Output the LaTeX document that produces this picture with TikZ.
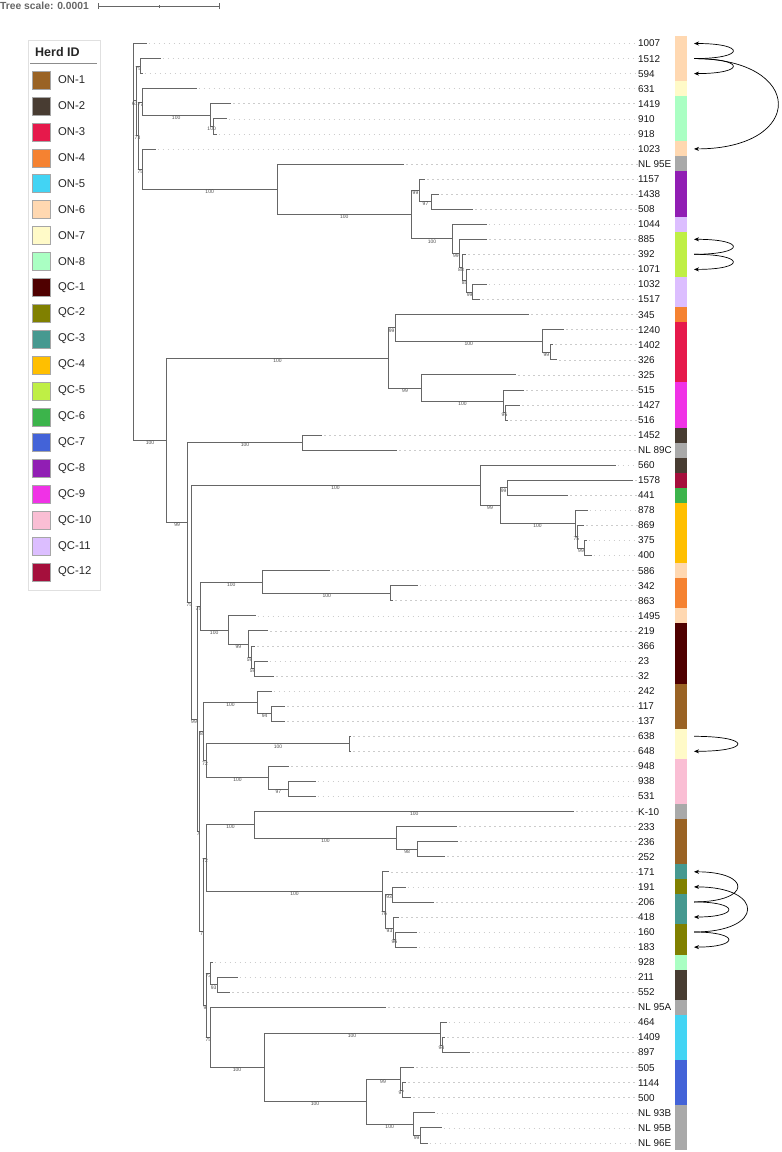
\documentclass[tikz,border=0pt]{standalone}
\usepackage{fontspec}
\setmainfont{Liberation Sans}
\usetikzlibrary{arrows.meta}
\definecolor{on1}{HTML}{9A6324}
\definecolor{on2}{HTML}{483C32}
\definecolor{on3}{HTML}{E6194B}
\definecolor{on4}{HTML}{F58231}
\definecolor{on5}{HTML}{42D4F4}
\definecolor{on6}{HTML}{FFD8B1}
\definecolor{on7}{HTML}{FFFAC8}
\definecolor{on8}{HTML}{AAFFC3}
\definecolor{qc1}{HTML}{4F0000}
\definecolor{qc2}{HTML}{808000}
\definecolor{qc3}{HTML}{469990}
\definecolor{qc4}{HTML}{FFBF00}
\definecolor{qc5}{HTML}{BFEF45}
\definecolor{qc6}{HTML}{3CB44B}
\definecolor{qc7}{HTML}{4363D8}
\definecolor{qc8}{HTML}{911EB4}
\definecolor{qc9}{HTML}{F032E6}
\definecolor{qc10}{HTML}{FABED4}
\definecolor{qc11}{HTML}{DCBEFF}
\definecolor{qc12}{HTML}{A50F3C}
\definecolor{ngr}{HTML}{A9A9A9}
\tikzset{
  brl/.style={draw=black!60, line width=0.65pt},
  bs/.style={font=\fontsize{5}{5}\selectfont, text=black!70, inner sep=0.4pt, anchor=north},
  dotl/.style={draw=black!20, line width=0.6pt, dash pattern=on 1.6pt off 3.4pt},
  leaflab/.style={font=\fontsize{9.9}{11}\selectfont, text=black!90, anchor=west, inner sep=0pt},
  legtxt/.style={font=\fontsize{11.3}{13}\selectfont, text=black!85, anchor=west, inner sep=0pt},
  legsw/.style={draw=black!35, line width=0.3pt, minimum size=18pt, inner sep=0pt},
  arr/.style={draw=black, line width=0.7pt, -{Stealth[length=5pt,width=4pt]}}
}
\newcommand\Lf[5]{%
  \coordinate (t#1) at (#3,#2);
  \coordinate (a#1) at (694,#2);
  \node[leaflab] (n#1) at (638,#2) {#4};
  \draw[dotl] ([xshift=2pt]t#1) -- (n#1.west);
  \fill[#5] (675,#2-7.53) rectangle (687,#2+7.53);}
\newcommand\E[3]{\draw[brl] (#1) |- (#2) node[pos=.75,bs]{#3};}
\begin{document}
\begin{tikzpicture}[x=1pt,y=-1pt]
\useasboundingbox (0,0) rectangle (782,1152);
% tree scale
\node[anchor=west, inner sep=0pt, font=\bfseries\fontsize{10.3}{12}\selectfont, text=black!60] (ts) at (0,6) {Tree scale: 0.0001};
\coordinate (sb0) at (98,6); \coordinate (sb1) at (219.7,6); \coordinate (sbm) at (159,6);
\draw[black!60, line width=0.7pt] (sb0) -- (sb1);
\draw[black!60, line width=0.7pt] ([yshift=-3pt]sb0) -- ([yshift=3pt]sb0);
\draw[black!60, line width=0.7pt] ([yshift=-3pt]sb1) -- ([yshift=3pt]sb1);
\draw[black!60, line width=0.5pt] ([yshift=-1.5pt]sbm) -- ([yshift=1.5pt]sbm);
% legend
\draw[black!12, line width=0.6pt] (28,40) rectangle (100,590);
\node[anchor=west, inner sep=0pt, font=\bfseries\fontsize{12.5}{14}\selectfont, text=black!85] (lgt) at (35,52) {Herd ID};
\draw[black!45, line width=0.5pt] (30,63.5) -- (97,63.5);
\foreach \c/\t [count=\i] in {on1/ON-1,on2/ON-2,on3/ON-3,on4/ON-4,on5/ON-5,on6/ON-6,on7/ON-7,on8/ON-8,qc1/QC-1,qc2/QC-2,qc3/QC-3,qc4/QC-4,qc5/QC-5,qc6/QC-6,qc7/QC-7,qc8/QC-8,qc9/QC-9,qc10/QC-10,qc11/QC-11,qc12/QC-12}{
  \node[legsw, fill=\c] (ls\i) at (41,{80+(\i-1)*25.9}) {};
  \node[legtxt] (lg\i) at (58,{80+(\i-1)*25.9}) {\t};
}
% leaves
\Lf{0}{43.5}{146.7}{1007}{on6}
\Lf{1}{58.6}{160.7}{1512}{on6}
\Lf{2}{73.6}{142.7}{594}{on6}
\Lf{3}{88.7}{196.7}{631}{on7}
\Lf{4}{103.7}{231}{1419}{on8}
\Lf{5}{118.8}{226.7}{910}{on8}
\Lf{6}{133.9}{216.7}{918}{on8}
\Lf{7}{148.9}{155.7}{1023}{on6}
\Lf{8}{164.0}{404}{NL 95E}{ngr}
\Lf{9}{179.0}{425}{1157}{qc8}
\Lf{10}{194.1}{439}{1438}{qc8}
\Lf{11}{209.2}{473}{508}{qc8}
\Lf{12}{224.2}{486.7}{1044}{qc11}
\Lf{13}{239.3}{487.3}{885}{qc5}
\Lf{14}{254.3}{466}{392}{qc5}
\Lf{15}{269.4}{470}{1071}{qc5}
\Lf{16}{284.5}{486.7}{1032}{qc11}
\Lf{17}{299.5}{480}{1517}{qc11}
\Lf{18}{314.6}{529.3}{345}{on4}
\Lf{19}{329.6}{564}{1240}{on3}
\Lf{20}{344.7}{553}{1402}{on3}
\Lf{21}{359.8}{557.3}{326}{on3}
\Lf{22}{374.8}{516}{325}{on3}
\Lf{23}{389.9}{524}{515}{qc9}
\Lf{24}{404.9}{520}{1427}{qc9}
\Lf{25}{420.0}{508.3}{516}{qc9}
\Lf{26}{435.1}{322.3}{1452}{on2}
\Lf{27}{450.1}{397.3}{NL 89C}{ngr}
\Lf{28}{465.2}{615.7}{560}{on2}
\Lf{29}{480.2}{633.3}{1578}{qc12}
\Lf{30}{495.3}{568.3}{441}{qc6}
\Lf{31}{510.4}{587.7}{878}{qc4}
\Lf{32}{525.4}{584.3}{869}{qc4}
\Lf{33}{540.5}{586.7}{375}{qc4}
\Lf{34}{555.5}{591.7}{400}{qc4}
\Lf{35}{570.6}{330}{586}{on6}
\Lf{36}{585.7}{417.7}{342}{on4}
\Lf{37}{600.7}{393.3}{863}{on4}
\Lf{38}{615.8}{255.7}{1495}{on6}
\Lf{39}{630.8}{268.3}{219}{qc1}
\Lf{40}{645.9}{255}{366}{qc1}
\Lf{41}{661.0}{267.7}{23}{qc1}
\Lf{42}{676.0}{274.3}{32}{qc1}
\Lf{43}{691.1}{271.7}{242}{on1}
\Lf{44}{706.1}{285}{117}{on1}
\Lf{45}{721.2}{285}{137}{on1}
\Lf{46}{736.3}{351}{638}{on7}
\Lf{47}{751.3}{351}{648}{on7}
\Lf{48}{766.4}{289.3}{948}{qc10}
\Lf{49}{781.4}{315.7}{938}{qc10}
\Lf{50}{796.5}{315.7}{531}{qc10}
\Lf{51}{811.6}{574.3}{K-10}{ngr}
\Lf{52}{826.6}{457.3}{233}{on1}
\Lf{53}{841.7}{458.3}{236}{on1}
\Lf{54}{856.7}{445}{252}{on1}
\Lf{55}{871.8}{389.3}{171}{qc3}
\Lf{56}{886.9}{405.7}{191}{qc2}
\Lf{57}{901.9}{434}{206}{qc3}
\Lf{58}{917.0}{399.3}{418}{qc3}
\Lf{59}{932.0}{416.7}{160}{qc2}
\Lf{60}{947.1}{416.7}{183}{qc2}
\Lf{61}{962.2}{212.7}{928}{on8}
\Lf{62}{977.2}{237.7}{211}{on2}
\Lf{63}{992.3}{230}{552}{on2}
\Lf{64}{1007.3}{386}{NL 95A}{ngr}
\Lf{65}{1022.4}{446.7}{464}{on5}
\Lf{66}{1037.5}{445}{1409}{on5}
\Lf{67}{1052.5}{470}{897}{on5}
\Lf{68}{1067.6}{414}{505}{qc7}
\Lf{69}{1082.6}{406}{1144}{qc7}
\Lf{70}{1097.7}{411}{500}{qc7}
\Lf{71}{1112.8}{434.5}{NL 93B}{ngr}
\Lf{72}{1127.8}{441.7}{NL 95B}{ngr}
\Lf{73}{1142.9}{427.7}{NL 96E}{ngr}
% internal nodes
\coordinate (R) at (133.3,440.1);
\coordinate (N1) at (136.5,100.8);
\coordinate (A) at (140,66.1);
\coordinate (N2) at (138.5,135.5);
\coordinate (B) at (142.3,101.9);
\coordinate (C) at (210,115.0);
\coordinate (P) at (213.3,126.3);
\coordinate (D) at (142.3,169.1);
\coordinate (E) at (277,189.3);
\coordinate (F) at (411.7,214.6);
\coordinate (G) at (419.3,190.3);
\coordinate (H) at (431.7,201.65);
\coordinate (I) at (452.3,238.8);
\coordinate (J) at (459.3,253.4);
\coordinate (K) at (462.7,267.5);
\coordinate (L) at (466.7,280.7);
\coordinate (M) at (472.7,292.0);
\coordinate (S) at (166.7,440.1);
\coordinate (T) at (388.3,357.9);
\coordinate (U) at (395,327.8);
\coordinate (W) at (542.7,340.9);
\coordinate (X) at (550,352.2);
\coordinate (V) at (421.7,388.0);
\coordinate (Y) at (503.3,401.2);
\coordinate (Z) at (505.7,412.5);
\coordinate (AA) at (187.7,522.4);
\coordinate (AB) at (302.3,442.6);
\coordinate (AC) at (191,602.1);
\coordinate (AD) at (480,485.4);
\coordinate (AE) at (500,505.6);
\coordinate (AF) at (507.3,487.8);
\coordinate (AG) at (575,523.5);
\coordinate (AH) at (577.7,536.7);
\coordinate (AI) at (584.3,548.0);
\coordinate (Z3) at (197,718.9);
\coordinate (AM) at (200,605.9);
\coordinate (AK) at (262.7,581.9);
\coordinate (AL) at (390.7,593.2);
\coordinate (AN) at (228.3,629.9);
\coordinate (AO) at (248.3,644.0);
\coordinate (AP) at (251,657.2);
\coordinate (AQ) at (254.3,668.5);
\coordinate (Z2) at (199.5,831.8);
\coordinate (BG) at (203.3,731.6);
\coordinate (BE) at (257.7,702.4);
\coordinate (BF) at (271.7,713.7);
\coordinate (BD) at (206.7,760.8);
\coordinate (BC) at (349.3,743.8);
\coordinate (BA) at (268.3,777.7);
\coordinate (BB) at (288.3,789.0);
\coordinate (Z1) at (203.3,931.8);
\coordinate (BQ) at (206.7,858.1);
\coordinate (BH) at (254.3,824.7);
\coordinate (BI) at (396.7,837.9);
\coordinate (BJ) at (417.5,849.2);
\coordinate (BK) at (382.3,891.5);
\coordinate (BP) at (385.7,911.3);
\coordinate (BM) at (392.7,894.4);
\coordinate (BN) at (393.3,928.3);
\coordinate (BO) at (395.3,939.6);
\coordinate (CC) at (206.7,1005.5);
\coordinate (CA) at (210,973.5);
\coordinate (CB) at (217.3,984.8);
\coordinate (CD) at (210,1037.5);
\coordinate (CE) at (264,1067.6);
\coordinate (CF) at (440,1033.7);
\coordinate (CG) at (442.7,1045.0);
\coordinate (CH) at (366,1101.5);
\coordinate (CI) at (400,1078.9);
\coordinate (CJ) at (402.7,1090.2);
\coordinate (CK) at (413.3,1124.1);
\coordinate (CL) at (420,1135.4);
% branches
\E{R}{t0}{}\E{R}{N1}{61}\E{R}{S}{100}
\E{N1}{A}{75}\E{N1}{N2}{73}
\E{A}{t1}{}\E{A}{t2}{}
\E{N2}{B}{77}\E{N2}{D}{75}
\E{B}{t3}{}\E{B}{C}{100}
\E{C}{t4}{}\E{C}{P}{100}
\E{P}{t5}{}\E{P}{t6}{}
\E{D}{t7}{}\E{D}{E}{100}
\E{E}{t8}{}\E{E}{F}{100}
\E{F}{G}{99}\E{F}{I}{100}
\E{G}{t9}{}\E{G}{H}{97}
\E{H}{t10}{}\E{H}{t11}{}
\E{I}{t12}{}\E{I}{J}{99}
\E{J}{t13}{}\E{J}{K}{88}
\E{K}{t14}{}\E{K}{L}{85}
\E{L}{t15}{}\E{L}{M}{99}
\E{M}{t16}{}\E{M}{t17}{}
\E{S}{T}{100}\E{S}{AA}{99}
\E{T}{U}{99}\E{T}{V}{99}
\E{U}{t18}{}\E{U}{W}{100}
\E{W}{t19}{}\E{W}{X}{99}
\E{X}{t20}{}\E{X}{t21}{}
\E{V}{t22}{}\E{V}{Y}{100}
\E{Y}{t23}{}\E{Y}{Z}{96}
\E{Z}{t24}{}\E{Z}{t25}{}
\E{AA}{AB}{100}\E{AA}{AC}{75}
\E{AB}{t26}{}\E{AB}{t27}{}
\E{AC}{AD}{100}\E{AC}{Z3}{99}
\E{AD}{t28}{}\E{AD}{AE}{99}
\E{AE}{AF}{99}\E{AE}{AG}{100}
\E{AF}{t29}{}\E{AF}{t30}{}
\E{AG}{t31}{}\E{AG}{AH}{75}
\E{AH}{t32}{}\E{AH}{AI}{99}
\E{AI}{t33}{}\E{AI}{t34}{}
\E{Z3}{AM}{75}\E{Z3}{Z2}{7}
\E{AM}{AK}{100}\E{AM}{AN}{100}
\E{AK}{t35}{}\E{AK}{AL}{100}
\E{AL}{t36}{}\E{AL}{t37}{}
\E{AN}{t38}{}\E{AN}{AO}{99}
\E{AO}{t39}{}\E{AO}{AP}{59}
\E{AP}{t40}{}\E{AP}{AQ}{59}
\E{AQ}{t41}{}\E{AQ}{t42}{}
\E{Z2}{BG}{8}\E{Z2}{Z1}{7}
\E{BG}{BE}{100}\E{BG}{BD}{72}
\E{BE}{t43}{}\E{BE}{BF}{94}
\E{BF}{t44}{}\E{BF}{t45}{}
\E{BD}{BC}{100}\E{BD}{BA}{100}
\E{BC}{t46}{}\E{BC}{t47}{}
\E{BA}{t48}{}\E{BA}{BB}{97}
\E{BB}{t49}{}\E{BB}{t50}{}
\E{Z1}{BQ}{72}\E{Z1}{CC}{9}
\E{BQ}{BH}{100}\E{BQ}{BK}{100}
\E{BH}{t51}{100}\E{BH}{BI}{100}
\E{BI}{t52}{}\E{BI}{BJ}{98}
\E{BJ}{t53}{}\E{BJ}{t54}{}
\E{BK}{t55}{}\E{BK}{BP}{76}
\E{BP}{BM}{93}\E{BP}{BN}{93}
\E{BM}{t56}{}\E{BM}{t57}{}
\E{BN}{t58}{}\E{BN}{BO}{96}
\E{BO}{t59}{}\E{BO}{t60}{}
\E{CC}{CA}{73}\E{CC}{CD}{75}
\E{CA}{t61}{}\E{CA}{CB}{93}
\E{CB}{t62}{}\E{CB}{t63}{}
\E{CD}{t64}{}\E{CD}{CE}{100}
\E{CE}{CF}{100}\E{CE}{CH}{100}
\E{CF}{t65}{}\E{CF}{CG}{94}
\E{CG}{t66}{}\E{CG}{t67}{}
\E{CH}{CI}{99}\E{CH}{CK}{100}
\E{CI}{t68}{}\E{CI}{CJ}{97}
\E{CJ}{t69}{}\E{CJ}{t70}{}
\E{CK}{t71}{}\E{CK}{CL}{99}
\E{CL}{t72}{}\E{CL}{t73}{}
% transmission arrows
\draw[arr] (a1) .. controls (746,58.6) and (746,43.5) .. (a0);
\draw[arr] (a1) .. controls (746,58.6) and (746,73.6) .. (a2);
\draw[arr] (a1) .. controls (806,58.6) and (806,148.9) .. (a7);
\draw[arr] (a14) .. controls (746,254.3) and (746,239.3) .. (a13);
\draw[arr] (a14) .. controls (746,254.3) and (746,269.4) .. (a15);
\draw[arr] (a46) .. controls (752,736.3) and (752,751.3) .. (a47);
\draw[arr] (a57) .. controls (752,901.9) and (752,871.8) .. (a55);
\draw[arr] (a57) .. controls (740,901.9) and (740,917.0) .. (a58);
\draw[arr] (a59) .. controls (765,932.0) and (765,886.9) .. (a56);
\draw[arr] (a59) .. controls (740,932.0) and (740,947.1) .. (a60);
\end{tikzpicture}
\end{document}
